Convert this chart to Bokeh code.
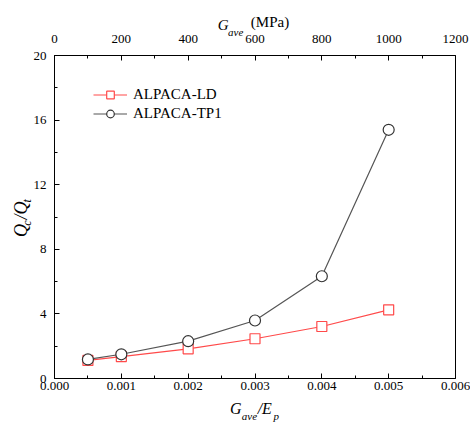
from bokeh.plotting import figure
from bokeh.models import (Range1d, LinearAxis, FixedTicker, Legend,
                          LegendItem, PrintfTickFormatter)
from bokeh.embed import file_html
from bokeh.resources import INLINE

# ---- data ----
ratio = [0.0005, 0.001, 0.002, 0.003, 0.004, 0.005]
ld_values = [1.12, 1.36, 1.84, 2.46, 3.22, 4.25]
tp1_values = [1.18, 1.50, 2.31, 3.59, 6.33, 15.4]
series_names = ["ALPACA-LD", "ALPACA-TP1"]
x_ticks = [0.0, 0.001, 0.002, 0.003, 0.004, 0.005, 0.006]
y_ticks = [0, 4, 8, 12, 16, 20]
top_ticks = [0, 200, 400, 600, 800, 1000, 1200]

SERIF = "Liberation Serif"
RED = "#ff4a4a"
GRAY = "#555555"
NB = "\u00a0"

FX0, FX1, FY0, FY1 = 54, 455, 378, 55   # frame edges in page pixels

p = figure(frame_width=FX1 - FX0, frame_height=FY0 - FY1,
           min_border_left=FX0, min_border_top=FY1, min_border_right=15,
           min_border_bottom=52,
           x_range=Range1d(0, 0.006), y_range=Range1d(0, 20),
           output_backend="svg", toolbar_location=None,
           x_axis_location=None, y_axis_location=None)
p.grid.visible = False
p.outline_line_color = "black"
p.outline_line_width = 1
p.background_fill_color = "white"
p.border_fill_color = "white"
p.extra_x_ranges = {"top": Range1d(0, 1200)}


def style(ax, standoff):
    ax.axis_line_color = "black"
    ax.major_tick_line_color = "black"
    ax.minor_tick_line_color = "black"
    ax.major_tick_in = 5
    ax.major_tick_out = 0
    ax.minor_tick_in = 3
    ax.minor_tick_out = 0
    ax.major_label_text_font = SERIF
    ax.major_label_text_font_size = "13px"
    ax.major_label_text_color = "black"
    ax.major_label_standoff = standoff


bx = LinearAxis(ticker=FixedTicker(ticks=x_ticks,
                                   minor_ticks=[0.0005 + 0.001 * i for i in range(6)]),
                formatter=PrintfTickFormatter(format="%.3f"))
style(bx, 3)
p.add_layout(bx, "below")

ly = LinearAxis(ticker=FixedTicker(ticks=y_ticks, minor_ticks=[2, 6, 10, 14, 18]))
style(ly, 8)
p.add_layout(ly, "left")

tx = LinearAxis(x_range_name="top",
                ticker=FixedTicker(ticks=top_ticks, minor_ticks=[100 + 200 * i for i in range(6)]))
style(tx, 13)
p.add_layout(tx, "above")


# ---- axis titles: bare axes carrying only a label, stacked to build italics/subscripts ----
def title_axis(side, text, size, standoff, italic=True, x_range_name="default"):
    kw = {"x_range_name": x_range_name} if side in ("above", "below") else {}
    ax = LinearAxis(ticker=FixedTicker(ticks=[]), axis_label=text, **kw)
    ax.axis_line_color = None
    ax.major_tick_line_color = None
    ax.minor_tick_line_color = None
    ax.major_tick_in = 0
    ax.major_tick_out = 0
    ax.minor_tick_in = 0
    ax.minor_tick_out = 0
    ax.major_label_standoff = 0
    ax.major_label_text_font_size = "0px"
    ax.axis_label_text_font = SERIF
    ax.axis_label_text_font_size = f"{size}px"
    ax.axis_label_text_font_style = "italic" if italic else "normal"
    ax.axis_label_text_color = "black"
    ax.axis_label_standoff = standoff
    p.add_layout(ax, side)


# bottom: G_ave/E_p
title_axis("below", "G" + NB * 4 + "/E" + NB * 2, 16, 7)
title_axis("below", NB * 4 + "ave" + NB * 6 + "p", 11, -10)

# top: G_ave (MPa)
title_axis("above", "ave" + NB * 14, 11, -6)
title_axis("above", "G" + NB * 17, 15, -10)
title_axis("above", NB * 8 + "(MPa)", 15, -16, italic=False)

# left: Q_c/Q_t
title_axis("left", NB * 4 + "c" + NB * 6 + "t" + NB, 12, -3)
title_axis("left", "Q" + NB + "/Q" + NB, 18, -14)

# ---- series ----
r1l = p.line(ratio, ld_values, line_color=RED, line_width=1.2)
r1m = p.scatter(ratio, ld_values, marker="square", size=10, line_color=RED,
                fill_color="white", line_width=1.2)
r2l = p.line(ratio, tp1_values, line_color=GRAY, line_width=1.2)
r2m = p.scatter(ratio, tp1_values, marker="circle", size=11, line_color="#333333",
                fill_color="white", line_width=1.2)

legend = Legend(items=[LegendItem(label=series_names[0], renderers=[r1l, r1m]),
                       LegendItem(label=series_names[1], renderers=[r2l, r2m])],
                location=(39, 255), padding=0, margin=0, spacing=0,
                glyph_width=34, glyph_height=19, label_height=19, label_standoff=6,
                label_text_font=SERIF, label_text_font_size="15px",
                label_text_color="black",
                border_line_color=None, background_fill_alpha=0)
p.add_layout(legend)

open("out.html", "w").write(file_html(p, INLINE))
